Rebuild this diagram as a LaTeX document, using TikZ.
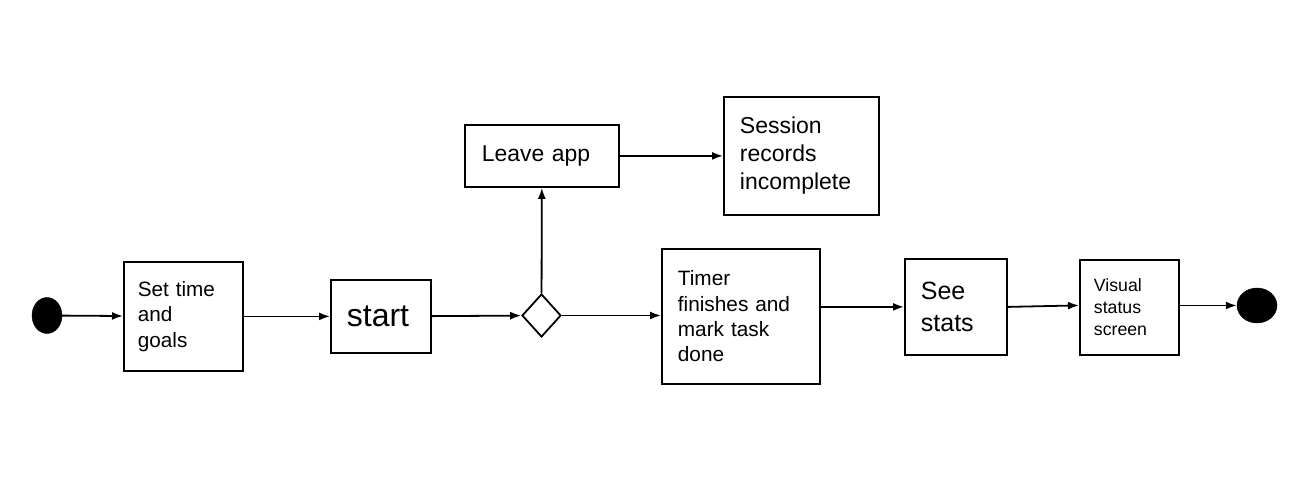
\documentclass[tikz,border=0pt]{standalone}
\usepackage{fontspec}
\setmainfont{Liberation Sans}
\usetikzlibrary{shapes.geometric,arrows.meta}
\tikzset{
  box/.style={draw, line width=1.8pt, align=left, inner ysep=0pt, anchor=north west},
  dot/.style={ellipse, fill=black, draw=black, inner sep=0pt},
  conn/.style={line width=1.8pt, -{Latex[length=11pt,width=8pt]}},
}
\begin{document}
\begin{tikzpicture}[x=1pt,y=-1pt]
\useasboundingbox (0,0) rectangle (1308,494);
\node[dot, minimum width=30pt, minimum height=36pt] (init) at (47,315.5) {};
\node[box, minimum width=119pt, minimum height=109pt, text width=91pt, inner xsep=14pt, font=\fontsize{20.7}{25.3}\selectfont] (set) at (123,261) {Set time\\and\\goals};
\node[box, minimum width=100pt, minimum height=73pt, text width=68pt, inner xsep=16pt, font=\fontsize{32}{38}\selectfont] (start) at (330,279) {start};
\node[diamond, draw, line width=1.8pt, inner sep=0pt, minimum width=39pt, minimum height=43pt, aspect=0.9] (dec) at (541.5,315.5) {};
\node[box, minimum width=154pt, minimum height=62pt, text width=120pt, inner xsep=17pt, font=\fontsize{22.9}{28}\selectfont] (leave) at (464,124) {Leave app};
\node[box, minimum width=155pt, minimum height=118pt, text width=123pt, inner xsep=16pt, font=\fontsize{23}{28}\selectfont] (sess) at (723,96) {Session\\records\\incomplete};
\node[box, minimum width=158pt, minimum height=135pt, text width=126pt, inner xsep=16pt, font=\fontsize{20.8}{25.3}\selectfont] (timer) at (661,248) {Timer\\finishes and\\mark task\\done};
\node[box, minimum width=102pt, minimum height=96pt, text width=70pt, inner xsep=16pt, font=\fontsize{25}{32}\selectfont] (see) at (904,258) {See\\stats};
\node[box, minimum width=99pt, minimum height=95pt, text width=71pt, inner xsep=14pt, font=\fontsize{17.7}{22}\selectfont] (vis) at (1079,259) {Visual\\status\\screen};
\node[dot, minimum width=40pt, minimum height=35pt] (final) at (1257,305.5) {};
\draw[conn] (init) -- (set);
\draw[conn] (set) -- (start);
\draw[conn] (start) -- (dec);
\draw[conn] (dec) -- (leave);
\draw[conn] (leave) -- (sess.west |- leave.east);
\draw[conn] (dec) -- (timer.west |- dec.east);
\draw[conn] (timer.east |- see.west) -- (see.west);
\draw[conn] (see.east) -- ([yshift=2pt]vis.west);
\draw[conn] (vis.east |- final.west) -- (final.west);
\end{tikzpicture}
\end{document}
